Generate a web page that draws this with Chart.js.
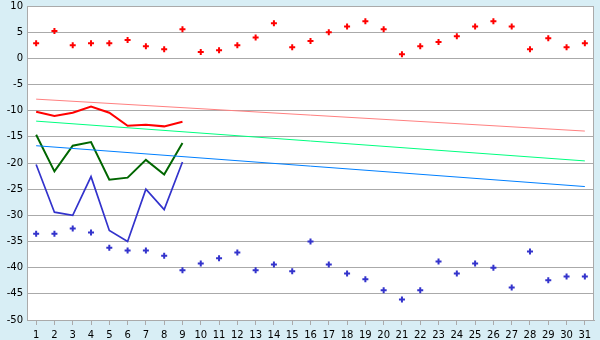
<!DOCTYPE html>
<html lang="en">
<head>
<meta charset="UTF-8">
<title>Temperature chart</title>
<script src="https://cdn.jsdelivr.net/npm/chart.js"></script>
<style>
    body {
        margin: 0;
        background: #d8eef5;
    }
    #wrap {
        width: 600px;
        height: 340px;
    }
</style>
</head>
<body>
<div id="wrap"><canvas id="myChart" width="600" height="340"></canvas></div>
<script>
    // days of the month
    const days = ['1','2','3','4','5','6','7','8','9','10','11','12','13','14','15','16',
        '17','18','19','20','21','22','23','24','25','26','27','28','29','30','31'];

    // record highs / lows (points)
    const recordHigh = [2.9, 5.2, 2.5, 2.9, 2.9, 3.5, 2.3, 1.75, 5.55, 1.2, 1.55, 2.5, 4.0, 6.7, 2.1, 3.3,
        5.0, 6.1, 7.1, 5.55, 0.8, 2.3, 3.1, 4.2, 6.1, 7.1, 6.1, 1.75, 3.85, 2.1, 2.9];
    const recordLow = [-33.5, -33.5, -32.5, -33.3, -36.2, -36.7, -36.7, -37.7, -40.5, -39.2, -38.2, -37.1, -40.5, -39.4, -40.7, -35.0,
        -39.4, -41.1, -42.2, -44.3, -46.1, -44.3, -38.8, -41.1, -39.2, -40.0, -43.8, -36.9, -42.4, -41.7, -41.7];

    // this month so far
    const maxTemp = [-10.2, -11.0, -10.4, -9.2, -10.4, -12.9, -12.7, -13.0, -12.1];
    const meanTemp = [-14.6, -21.6, -16.7, -16.0, -23.2, -22.8, -19.4, -22.2, -16.2];
    const minTemp = [-20.3, -29.4, -30.0, -22.6, -32.9, -35.0, -25.0, -28.9, -19.8];

    // normals (straight lines, first and last day)
    const normMax = [-7.8].concat(Array(29).fill(null), [-13.9]);
    const normMean = [-12.0].concat(Array(29).fill(null), [-19.6]);
    const normMin = [-16.7].concat(Array(29).fill(null), [-24.5]);

    const plotBg = {
        id: 'plotBg',
        beforeDraw(chart) {
            const a = chart.chartArea;
            const ctx = chart.ctx;
            ctx.save();
            ctx.fillStyle = '#ffffff';
            ctx.fillRect(a.left, a.top, a.right - a.left, a.bottom - a.top);
            ctx.restore();
        },
        afterDatasetsDraw(chart) {
            const a = chart.chartArea;
            const ctx = chart.ctx;
            ctx.save();
            ctx.strokeStyle = '#aaaaaa';
            ctx.lineWidth = 1;
            ctx.strokeRect(a.left + 0.5, a.top + 0.5, a.right - a.left - 1, a.bottom - a.top);
            ctx.restore();
        }
    };

    function line(data, color, width) {
        return {
            data: data,
            borderColor: color,
            borderWidth: width,
            pointRadius: 0,
            fill: false,
            spanGaps: true,
            tension: 0
        };
    }
    function dots(data, color) {
        return {
            data: data,
            showLine: false,
            borderColor: color,
            backgroundColor: color,
            pointStyle: 'cross',
            pointRadius: 3,
            pointBorderWidth: 2
        };
    }

    const ctx = document.getElementById('myChart').getContext('2d');
    new Chart(ctx, {
        type: 'line',
        data: {
            labels: days,
            datasets: [
                line(normMax, '#ff8080', 1),
                line(normMean, '#00ff80', 1),
                line(normMin, '#0080ff', 1),
                line(maxTemp, '#ff0000', 2),
                line(meanTemp, '#006600', 2),
                line(minTemp, '#3333cc', 1.7),
                dots(recordHigh, '#ff0000'),
                dots(recordLow, '#3333cc')
            ]
        },
        options: {
            responsive: false,
            animation: false,
            layout: { padding: { top: 0, right: 5, left: 0, bottom: 0 } },
            plugins: {
                legend: { display: false },
                tooltip: { enabled: false }
            },
            scales: {
                x: {
                    offset: true,
                    grid: { drawOnChartArea: false, drawTicks: true, tickLength: 5, color: '#aaaaaa' },
                    border: { color: '#aaaaaa' },
                    ticks: {
                        color: '#000',
                        padding: 5,
                        maxRotation: 0,
                        autoSkip: false,
                        font: { family: 'DejaVu Sans', size: 10, lineHeight: 1 }
                    },
                    afterFit(scale) { scale.height = 20; }
                },
                y: {
                    min: -50,
                    max: 10,
                    grid: { color: '#aaaaaa', drawTicks: false },
                    border: { color: '#aaaaaa' },
                    ticks: {
                        stepSize: 5,
                        color: '#000',
                        padding: 4,
                        font: { family: 'DejaVu Sans', size: 10, lineHeight: 1 }
                    },
                    afterFit(scale) {
                        scale.width = 27;
                        scale.paddingTop = 5;
                        scale.paddingBottom = 0;
                    }
                }
            }
        },
        plugins: [plotBg]
    });
</script>
</body>
</html>
